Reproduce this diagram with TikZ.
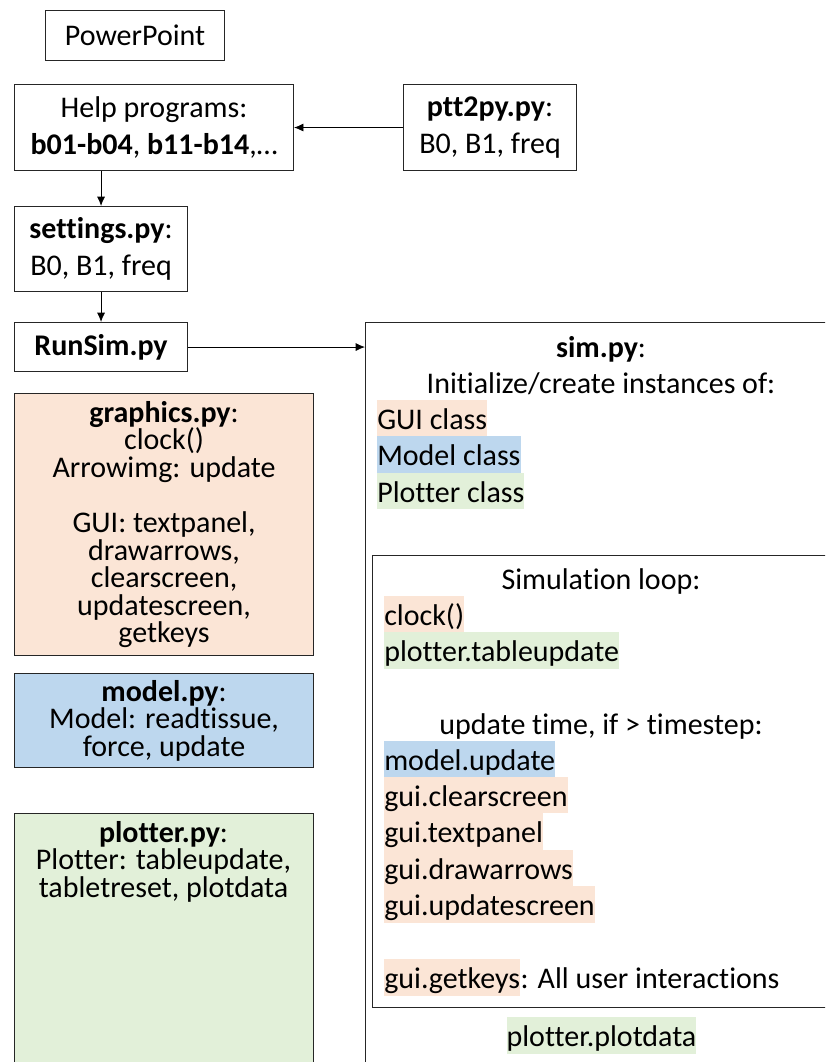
\documentclass[tikz,border=0pt]{standalone}
\usepackage{fontspec}
\setmainfont{Carlito}[Ligatures=NoCommon]
\usetikzlibrary{arrows.meta}
\definecolor{orfill}{HTML}{FBE5D6}
\definecolor{blfill}{HTML}{BDD7EE}
\definecolor{grfill}{HTML}{E2F0D9}
\newcommand{\fsA}{\fontsize{22.5pt}{27.3pt}\selectfont}
\newcommand{\fsB}{\fontsize{22.5pt}{20.7pt}\selectfont}
\begin{document}
\begin{tikzpicture}[x=0.75pt,y=-0.75pt,
  box/.style={draw=black!85, line width=0.8pt, inner sep=0pt, anchor=north west, align=center, font=\fsA},
  arr/.style={-{Latex[length=7pt,width=6pt]}, line width=0.6pt},
  txtline/.style={font=\fsA, inner sep=0pt, text height=21.9pt, text depth=5.4pt},
  hl/.style={txtline, anchor=west}]
\useasboundingbox (0,0) rectangle (825,1062);
\clip (0,0) rectangle (825,1062);
\fill[white] (0,0) rectangle (825,1062);

% left column
\node[box, minimum width=134.25pt, minimum height=37.5pt] (pp) at (45,10) {PowerPoint};
\node[box, minimum width=209.25pt, minimum height=64.5pt] (help) at (14,84) {Help programs:\\\textbf{b01-b04}, \textbf{b11-b14},…};
\node[box, minimum width=129.75pt, minimum height=64.5pt] (ptt) at (403,84) {\textbf{ptt2py.py}:\\B0, B1, freq};
\node[box, minimum width=129.75pt, minimum height=63.75pt] (settings) at (14,206) {\textbf{settings.py}:\\B0, B1, freq};
\node[box, minimum width=129.75pt, minimum height=36.75pt] (runsim) at (14,322) {\textbf{RunSim.py}};
\node[box, fill=orfill, font=\fsB, minimum width=224.25pt, minimum height=196.5pt] (graphics) at (14,393)
  {\textbf{graphics.py}:\\clock()\\Arrowimg: update\\[20.7pt]GUI: textpanel,\\drawarrows,\\clearscreen,\\updatescreen,\\getkeys};
\node[box, fill=blfill, font=\fsB, minimum width=224.25pt, minimum height=70.5pt] (model) at (14,673)
  {\textbf{model.py}:\\Model: readtissue,\\force, update};
\node[box, fill=grfill, minimum width=224.25pt, minimum height=200pt] (plotter) at (14,813) {};
\node[font=\fsB, align=center, inner sep=0pt, anchor=north] (plottertext) at (163.5,821)
  {\textbf{plotter.py}:\\Plotter: tableupdate,\\tabletreset, plotdata};

% sim.py box
\node[box, minimum width=356.25pt, minimum height=568.5pt] (sim) at (365,322) {};
\node[txtline] (simtitle) at (601,346) {\textbf{sim.py}:};
\node[txtline] (init) at (601,382) {Initialize/create instances of:};
\node[hl, fill=orfill] (guic) at (377,418) {GUI class};
\node[hl, fill=blfill] (modelc) at (377,454.5) {Model class};
\node[hl, fill=grfill] (plotc) at (377,491) {Plotter class};

% simulation loop
\node[box, minimum width=351pt, minimum height=339pt] (loop) at (372,555) {};
\node[txtline] (looptitle) at (601,578) {Simulation loop:};
\node[hl, fill=orfill] (clk) at (384,614) {clock()};
\node[hl, fill=grfill] (ptu) at (384,650.5) {plotter.tableupdate};
\node[txtline] (updt) at (601,723) {update time, if > timestep:};
\node[hl, fill=blfill] (mu) at (384,759) {model.update};
\node[hl, fill=orfill] (gcs) at (384,795) {gui.clearscreen};
\node[hl, fill=orfill] (gtp) at (384,831.5) {gui.textpanel};
\node[hl, fill=orfill] (gda) at (384,868) {gui.drawarrows};
\node[hl, fill=orfill] (gus) at (384,904.5) {gui.updatescreen};
\node[hl, fill=orfill] (ggk) at (384,977.5) {gui.getkeys};
\node[txtline, anchor=west] (ggktext) at (ggk.east) {: All user interactions};
\node[txtline, fill=grfill] (ppd) at (601.5,1035.5) {plotter.plotdata};

% connectors
\draw[arr] (ptt) -- (help);
\draw[arr] (help.south -| settings.north) -- (settings.north);
\draw[arr] (settings) -- (runsim);
\draw[arr] (runsim.east) -- (runsim.east -| sim.west);
\end{tikzpicture}
\end{document}
